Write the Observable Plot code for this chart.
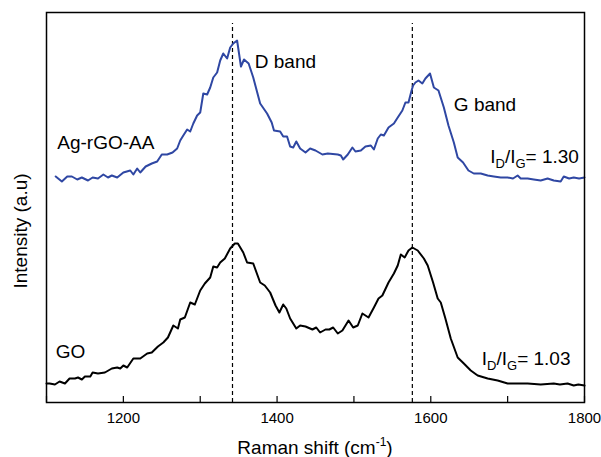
<!DOCTYPE html>
<html><head><meta charset="utf-8">
<script src="https://cdn.jsdelivr.net/npm/d3@7"></script>
<script src="https://cdn.jsdelivr.net/npm/@observablehq/plot@0.6"></script>
<style>body{margin:0;background:#fff;}</style>
</head><body><div id="chart"></div>
<script>
// Ag-rGO-AA spectrum (Raman shift in cm-1, intensity in a.u.)
const wnAg = [1112,1120,1127,1133,1140,1146,1154,1160,1167,1174,1180,1185,1192,1200,1209,1213,1218,1222,1229,1237,1244,1250,1257,1264,1270,1274,1278,1283,1287,1291,1296,1300,1304,1309,1313,1317,1322,1326,1330,1335,1339,1343,1348,1353,1357,1363,1369,1378,1387,1393,1396,1404,1408,1413,1417,1421,1425,1430,1437,1443,1450,1459,1466,1479,1483,1486,1492,1498,1502,1509,1515,1522,1526,1531,1535,1539,1545,1552,1557,1563,1567,1571,1575,1577,1580,1584,1589,1593,1599,1604,1610,1617,1623,1630,1635,1642,1649,1656,1665,1674,1682,1691,1700,1707,1713,1717,1726,1734,1743,1752,1760,1769,1773,1780,1786,1793,1800];
const intAg = [226,221,226,226,223,225,222,225,224,228,225,227,225,230,232,228,234,230,236,239,241,248,248,250,254,262,267,273,271,279,287,290,309,308,315,325,330,342,349,344,355,359,362,336,343,339,325,299,289,280,272,271,266,266,256,255,261,254,250,254,252,248,249,248,247,243,248,255,251,252,256,257,253,264,268,267,275,279,285,292,300,300,312,317,320,322,319,324,329,315,312,295,277,260,245,240,232,229,229,227,226,225,225,224,227,224,224,223,222,224,222,221,226,224,225,224,225];
// GO spectrum
const wnGO = [1100,1104,1111,1117,1124,1130,1137,1141,1146,1150,1157,1160,1167,1176,1185,1192,1196,1200,1205,1213,1222,1231,1237,1245,1252,1258,1265,1271,1274,1280,1287,1293,1300,1306,1313,1317,1322,1326,1332,1339,1345,1349,1356,1361,1369,1378,1384,1391,1398,1403,1408,1412,1417,1425,1430,1437,1446,1451,1456,1463,1468,1473,1479,1485,1493,1499,1505,1511,1519,1526,1532,1537,1545,1552,1557,1561,1566,1571,1576,1583,1591,1596,1603,1609,1613,1619,1626,1635,1643,1652,1661,1674,1687,1700,1713,1726,1743,1760,1768,1778,1786,1792,1800];
const intGO = [19,19,18,21,19,24,24,25,23,26,26,30,29,30,34,35,34,37,35,44,44,49,50,56,60,65,77,74,83,85,100,98,112,119,125,136,135,140,144,154,159,159,150,140,139,120,117,110,97,90,98,94,84,74,77,76,73,75,70,73,73,75,69,72,82,75,77,89,85,95,104,107,120,129,137,148,145,152,155,152,144,137,120,104,100,84,64,45,39,32,27,24,22,19,19,19,18,19,18,19,17,18,17];

const bandPositions = [1342, 1576];
const xTicks = [1100,1200,1300,1400,1500,1600,1700,1800];
const xTickLabels = [1200,1400,1600,1800];
const seriesNames = ["Ag-rGO-AA", "GO"];
const bandNames = ["D band", "G band"];
const ratioValues = ["1.30", "1.03"];

// annotation placement (data units)
const simpleLabels = [
  {x: 1114, y: 260, text: seriesNames[0]},
  {x: 1112, y: 51, text: seriesNames[1]},
  {x: 1371, y: 341, text: bandNames[0]},
  {x: 1630, y: 298, text: bandNames[1]}
];
const ratioLabels = [
  {x: 1678, y: 239, value: ratioValues[0]},
  {x: 1667, y: 37, value: ratioValues[1]}
];

const agData = wnAg.map((x, i) => ({x, y: intAg[i]}));
const goData = wnGO.map((x, i) => ({x, y: intGO[i]}));
const font = "'Liberation Sans', Arial, Helvetica, sans-serif";

const chart = Plot.plot({
  width: 601, height: 457,
  marginLeft: 46, marginRight: 17, marginTop: 12, marginBottom: 55,
  x: {domain: [1100, 1800]},
  y: {domain: [0, 390], axis: null},
  style: {fontFamily: font, background: "white", color: "black"},
  marks: [
    Plot.ruleX(bandPositions, {y1: 0, y2: 379, stroke: "black", strokeWidth: 1.2, strokeDasharray: "4,3"}),
    Plot.line(agData, {x: "x", y: "y", stroke: "#2f47a3", strokeWidth: 2}),
    Plot.line(goData, {x: "x", y: "y", stroke: "black", strokeWidth: 2}),
    Plot.ruleX(xTicks, {y1: 0, y2: 6, stroke: "black", strokeWidth: 1.2}),
    Plot.axisX(xTickLabels, {tickSize: 0, tickPadding: 10, fontSize: 15, label: null, tickFormat: d => String(d)}),
    Plot.frame({stroke: "black", strokeWidth: 1.5}),
    Plot.text(simpleLabels, {x: "x", y: "y", text: "text", textAnchor: "start", fontSize: 19, fill: "black"})
  ]
});

const sx = chart.scale("x"), sy = chart.scale("y");
const svg = d3.select(chart);
ratioLabels.forEach(d => {
  const t = svg.append("text")
    .attr("x", sx.apply(d.x)).attr("y", sy.apply(d.y))
    .attr("text-anchor", "start")
    .attr("font-size", 19).attr("fill", "black").attr("font-family", font);
  t.append("tspan").text("I");
  t.append("tspan").attr("font-size", 13).attr("dy", 5).text("D");
  t.append("tspan").attr("dy", -5).text("/I");
  t.append("tspan").attr("font-size", 13).attr("dy", 5).text("G");
  t.append("tspan").attr("dy", -5).text("= " + d.value);
});
// x axis label
const xr = sx.range;
const xl = svg.append("text")
  .attr("x", (xr[0] + xr[1]) / 2).attr("y", 454)
  .attr("text-anchor", "middle").attr("font-size", 19).attr("fill", "black").attr("font-family", font);
xl.append("tspan").text("Raman shift (cm");
xl.append("tspan").attr("font-size", 12).attr("dy", -8).text("-1");
xl.append("tspan").attr("dy", 8).text(")");
// y axis label
svg.append("text")
  .attr("transform", "translate(26.5,231) rotate(-90)")
  .attr("text-anchor", "middle").attr("font-size", 19).attr("fill", "black").attr("font-family", font)
  .text("Intensity (a.u)");

document.getElementById("chart").appendChild(chart);
</script>
</body></html>
